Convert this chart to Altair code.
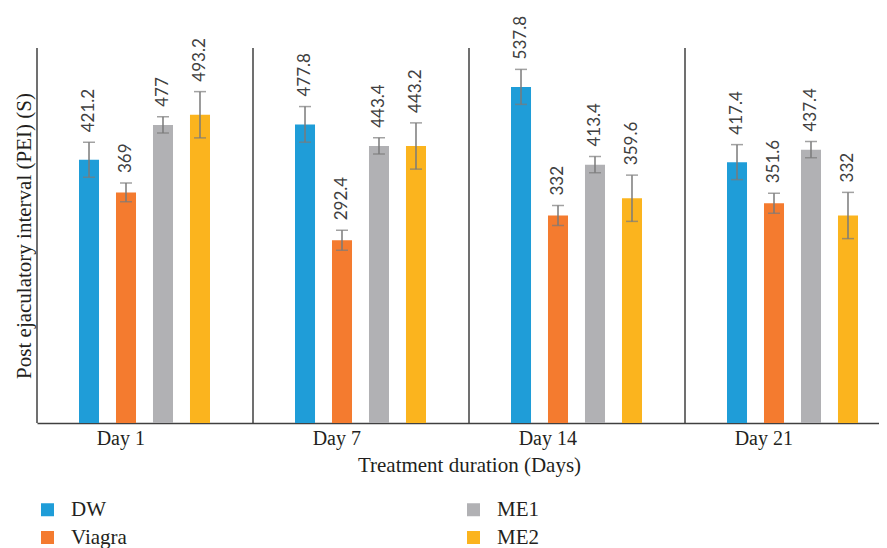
import altair as alt
import pandas as pd

days = ["Day 1", "Day 7", "Day 14", "Day 21"]
groups = ["DW", "Viagra", "ME1", "ME2"]
legend_order = ["DW", "ME1", "Viagra", "ME2"]
colors = {"DW": "#1F9DD8", "Viagra": "#F47B2F", "ME1": "#B1B1B4", "ME2": "#FBB41E"}

dw_mean = [421.2, 477.8, 537.8, 417.4]
viagra_mean = [369, 292.4, 332, 351.6]
me1_mean = [477, 443.4, 413.4, 437.4]
me2_mean = [493.2, 443.2, 359.6, 332]

dw_err = [28, 28.5, 28, 28]
viagra_err = [15, 16, 16, 16]
me1_err = [13, 13, 13, 13]
me2_err = [37, 37, 37, 37]

means = {"DW": dw_mean, "Viagra": viagra_mean, "ME1": me1_mean, "ME2": me2_mean}
errs = {"DW": dw_err, "Viagra": viagra_err, "ME1": me1_err, "ME2": me2_err}

rows = []
for g in groups:
    for d, m, e in zip(days, means[g], errs[g]):
        rows.append({"day": d, "group": g, "mean": m, "lo": m - e, "hi": m + e,
                     "label": f"{m:g}"})
df = pd.DataFrame(rows)
sep_df = pd.DataFrame({"day": days})

SERIF = "Liberation Serif"
TEXTC = "#231F20"

xscale = alt.Scale(domain=days, range=[0, 864], paddingInner=0, paddingOuter=0)
x_enc = alt.X("day:N", sort=days, scale=xscale,
              axis=alt.Axis(title="Treatment duration (Days)", labelAngle=0, ticks=False,
                            labelFont=SERIF, labelFontSize=20, labelColor=TEXTC, labelPadding=15,
                            titleFont=SERIF, titleFontSize=21, titleFontWeight="normal",
                            titleColor=TEXTC, titlePadding=6,
                            domainColor="#404040", domainWidth=1.5, grid=False))
xoff = alt.XOffset("group:N", sort=groups,
                   scale=alt.Scale(domain=groups, range=[42, 173], paddingInner=0.459,
                                   paddingOuter=0))
yscale = alt.Scale(domain=[0, 600], nice=False)
y_axis = alt.Axis(title="Post ejaculatory interval (PEI) (S)", labels=False, ticks=False,
                  domain=False, grid=False, titleFont=SERIF, titleFontSize=21,
                  titleFontWeight="normal", titleColor=TEXTC, titlePadding=3)

base = alt.Chart(df)

bars = base.mark_bar().encode(
    x=x_enc,
    xOffset=xoff,
    y=alt.Y("mean:Q", scale=yscale, axis=y_axis),
    color=alt.Color("group:N",
                    scale=alt.Scale(domain=legend_order, range=[colors[g] for g in legend_order]),
                    legend=alt.Legend(title=None, orient="none", legendX=0, legendY=451,
                                      columns=2, symbolType="square", symbolSize=169,
                                      symbolStrokeWidth=0, labelFont=SERIF, labelFontSize=21,
                                      labelColor=TEXTC, labelOffset=13, columnPadding=336,
                                      rowPadding=6, direction="horizontal")),
)

err = base.mark_rule(color="#7A7A7A", strokeWidth=1.5).encode(
    x=x_enc, xOffset=xoff, y=alt.Y("lo:Q", scale=yscale), y2="hi:Q")

cap_lo = base.mark_tick(color="#7A7A7A", thickness=1.5, size=12, orient="horizontal").encode(
    x=x_enc, xOffset=xoff, y=alt.Y("lo:Q", scale=yscale))
cap_hi = base.mark_tick(color="#7A7A7A", thickness=1.5, size=12, orient="horizontal").encode(
    x=x_enc, xOffset=xoff, y=alt.Y("hi:Q", scale=yscale))

labels = base.mark_text(angle=270, align="left", baseline="middle", dx=10,
                        font="Lato", fontSize=17, color="#404040").encode(
    x=x_enc, xOffset=xoff, y=alt.Y("hi:Q", scale=yscale), text="label:N")

seps = alt.Chart(sep_df).mark_rule(color="#404040", strokeWidth=1.5).encode(
    x=alt.X("day:N", sort=days, scale=xscale, bandPosition=0))

chart = alt.layer(seps, bars, err, cap_lo, cap_hi, labels).properties(
    width=842, height=375,
    autosize=alt.AutoSizeParams(type="none"),
    padding={"left": 29, "top": 40, "right": 0, "bottom": 125},
).configure_view(stroke=None)

chart.save("out.html", embed_options={"renderer": "svg", "actions": False})
